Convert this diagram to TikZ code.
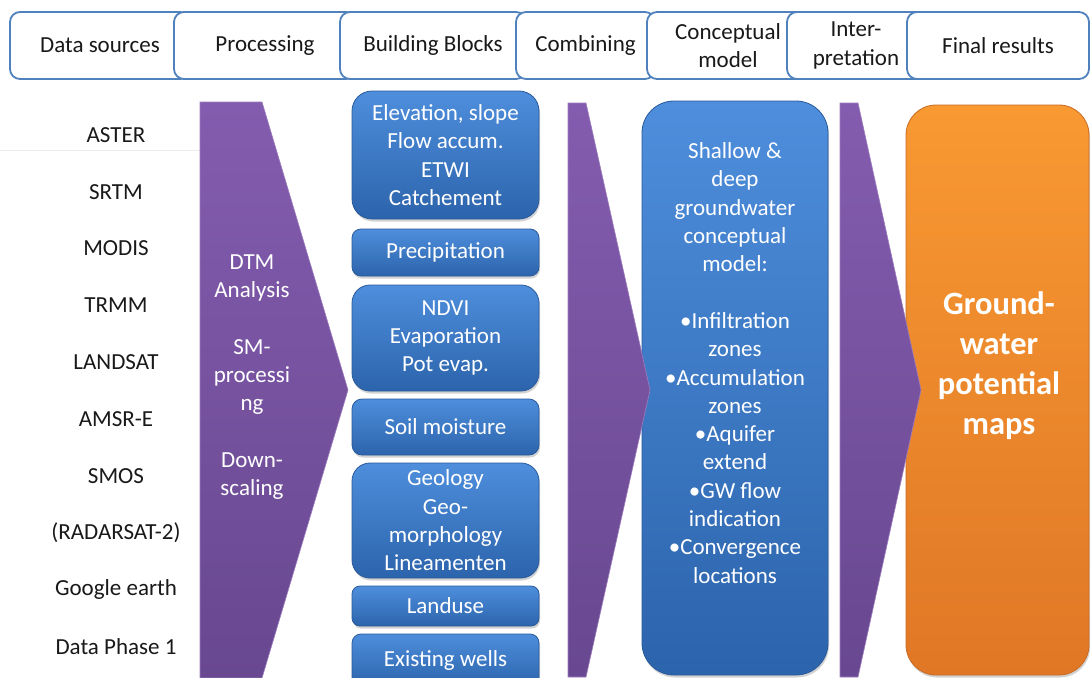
\documentclass[tikz,border=0pt]{standalone}
\usepackage{fontspec}
\setmainfont{Carlito}
\usetikzlibrary{positioning,shadows}

\definecolor{tabblue}{RGB}{79,129,189}
\definecolor{labgray}{RGB}{25,25,25}
\definecolor{blocktop}{RGB}{78,142,220}
\definecolor{blockbot}{RGB}{44,100,172}
\definecolor{blockedge}{RGB}{40,90,155}
\definecolor{chevtop}{RGB}{132,92,175}
\definecolor{chevbot}{RGB}{104,72,144}
\definecolor{restop}{RGB}{248,153,50}
\definecolor{resbot}{RGB}{224,119,38}

\tikzset{
  bodyfont/.style={font=\fontsize{23}{28.3}\selectfont},
  tab/.style={bodyfont,draw=tabblue,line width=1.8pt,fill=white,rounded corners=10pt,minimum height=67pt,align=center,text=labgray,inner sep=1pt},
  source/.style={bodyfont,text=labgray},
  block/.style={bodyfont,top color=blocktop,bottom color=blockbot,draw=blockedge,line width=0.8pt,text=white,align=center,minimum width=187pt,inner ysep=2pt,drop shadow={opacity=0.35,shadow xshift=1pt,shadow yshift=-2.5pt}},
  chevron/.style={top color=chevtop,bottom color=chevbot,draw=chevtop!80!white,line width=0.6pt},
  whitetext/.style={bodyfont,text=white,align=center},
  result/.style={top color=restop,bottom color=resbot,draw=resbot!90!black,line width=0.8pt,drop shadow={opacity=0.35,shadow xshift=1pt,shadow yshift=-2.5pt}},
}

\begin{document}
\begin{tikzpicture}[x=1pt,y=-1pt]
\clip (0,0) rectangle (1091,677);
\fill[white] (0,0) rectangle (1091,677);

% header tabs, each one laid over the one before
\node[tab,minimum width=180pt] (tdata) at (100,45.5) {Data sources};
\node[tab,minimum width=182pt] (tproc) at (265,45.5) {Processing};
\node[tab,minimum width=186pt] (tblock) at (433,45.5) {Building Blocks};
\node[tab,minimum width=139pt] (tcomb) at (585.5,45.5) {Combining};
\node[tab,minimum width=162pt] (tconc) at (728,45.5) {Conceptual\\model};
\node[tab,minimum width=138pt] (tinter) at (856,45.5) {Inter-\\pretation};
\node[tab,minimum width=182pt] (tfinal) at (998,45.5) {Final results};

% data sources
\draw[gray!15] (0,150) -- (200,150);
\begin{scope}[node distance=56.8pt,on grid]
  \node[source] (aster) at (116,135) {ASTER};
  \node[source,below=of aster] (srtm) {SRTM};
  \node[source,below=of srtm] (modis) {MODIS};
  \node[source,below=of modis] (trmm) {TRMM};
  \node[source,below=of trmm] (landsat) {LANDSAT};
  \node[source,below=of landsat] (amsr) {AMSR-E};
  \node[source,below=of amsr] (smos) {SMOS};
  \node[source,below=of smos] (radarsat) {(RADARSAT-2)};
  \node[source,below=of radarsat] (google) {Google earth};
  \node[source,below=of google] (phase) {Data Phase 1};
\end{scope}

% building blocks
\node[block,minimum height=128pt,rounded corners=20pt] (elev) at (445.5,155) {Elevation, slope\\Flow accum.\\ETWI\\Catchement};
\node[block,minimum height=47pt,rounded corners=9pt] (precip) at (445.5,252.5) {Precipitation};
\node[block,minimum height=106pt,rounded corners=18pt] (ndvi) at (445.5,338) {NDVI\\Evaporation\\Pot evap.};
\node[block,minimum height=56pt,rounded corners=10pt] (soil) at (445.5,427) {Soil moisture};
\node[block,minimum height=115pt,rounded corners=18pt] (geo) at (445.5,520.5) {Geology\\Geo-\\morphology\\Lineamenten};
\node[block,minimum height=40pt,rounded corners=8pt] (landuse) at (445.5,606) {Landuse};
\node[block,minimum height=52pt,rounded corners=9pt] (wells) at (445.5,660) {Existing wells};

% conceptual model and final result
\node[block,minimum width=186pt,minimum height=574pt,rounded corners=32pt] (cmodel) at (735,388) {};
\node[whitetext] (cmtext) at (735,363) {Shallow \&\\deep\\groundwater\\conceptual\\model:\\[28.3pt]%
  •Infiltration\\zones\\•Accumulation\\zones\\•Aquifer\\extend\\•GW flow\\indication\\•Convergence\\locations};
\node[result,minimum width=183pt,minimum height=570pt,rounded corners=30pt] (final) at (997.5,390) {};
\node[text=white,align=center,font=\fontsize{32.5}{40}\selectfont\bfseries] (maps) at (999,366) {Ground-\\water\\potential\\maps};

% chevrons
\path[chevron] (200,102) -- (262,102) -- (348,390) -- (262,678) -- (200,678) -- cycle;
\path[chevron] (568,103) -- (586,103) -- (650,390) -- (586,677) -- (568,677) -- cycle;
\path[chevron] (840,103) -- (858,103) -- (921,390) -- (858,677) -- (840,677) -- cycle;
\node[whitetext] (proctext) at (252,377) {DTM\\Analysis\\[28.3pt]SM-\\processi\\ng\\[28.3pt]Down-\\scaling};
\end{tikzpicture}
\end{document}
